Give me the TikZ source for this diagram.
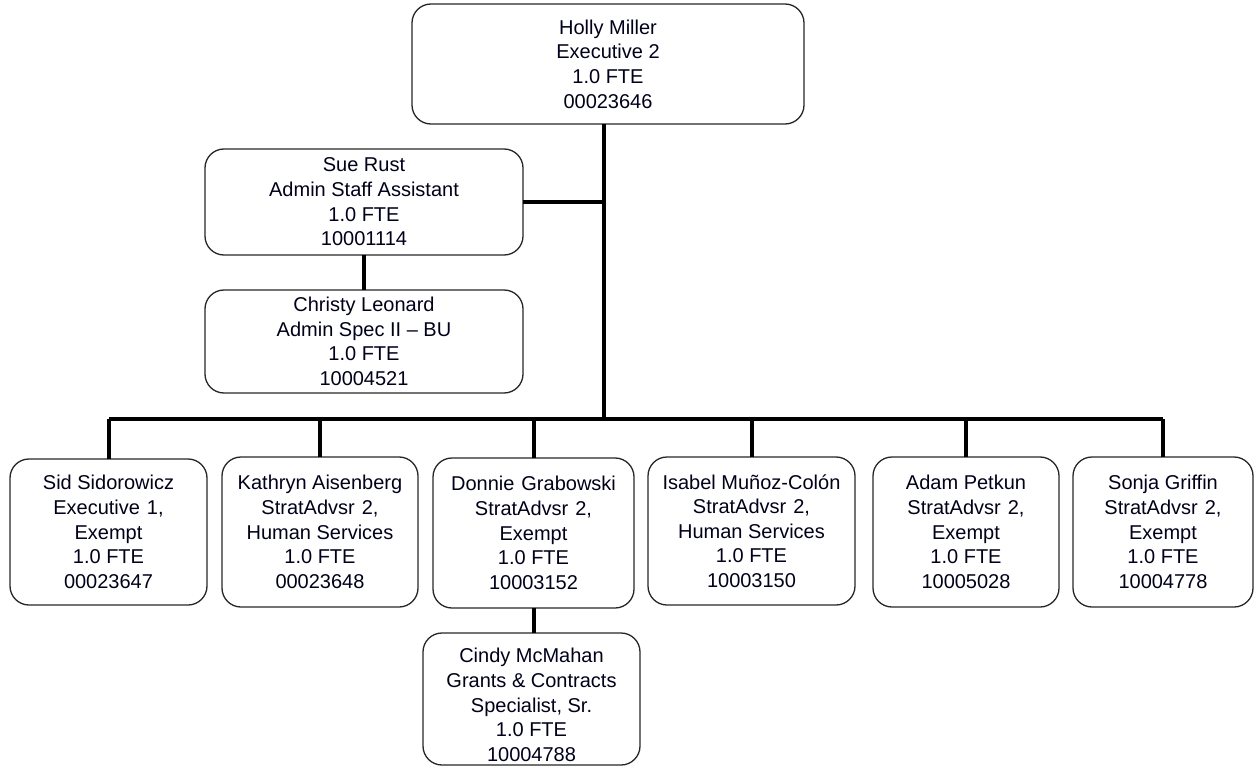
\documentclass[tikz,border=0pt]{standalone}
\usepackage{fontspec}
\setmainfont{Liberation Sans}
\begin{document}
\begin{tikzpicture}[x=1bp,y=-1bp,
  card/.style={draw=black!85, line width=1.3bp, rounded corners=19bp, inner sep=0pt, outer sep=0pt,
    align=center, font=\fontsize{20bp}{24.6bp}\selectfont, text=black!90!blue},
  link/.style={line width=4bp, black}]
\useasboundingbox (0,0) rectangle (1255,766);
\def\sp{\hspace{0.35em}}
\node[card, minimum width=392bp, minimum height=120bp] (holly) at (608,64)
  {Holly Miller\\Executive 2\\1.0 FTE\\00023646};
\node[card, minimum width=318bp, minimum height=106bp] (sue) at (364,202)
  {Sue Rust\\Admin Staff Assistant\\1.0 FTE\\10001114};
\node[card, minimum width=318bp, minimum height=103bp] (christy) at (364,341.5)
  {Christy Leonard\\Admin Spec II -- BU\\1.0 FTE\\10004521};
\node[card, minimum width=197bp, minimum height=146bp] (sid) at (108.5,532)
  {Sid Sidorowicz\\Executive\sp1,\\Exempt\\1.0 FTE\\00023647};
\node[card, minimum width=196bp, minimum height=150bp] (kathryn) at (320,532)
  {Kathryn Aisenberg\\StratAdvsr\sp2,\\Human Services\\1.0 FTE\\00023648};
\node[card, minimum width=201bp, minimum height=150bp] (donnie) at (533.5,533)
  {Donnie\sp Grabowski\\StratAdvsr\sp2,\\Exempt\\1.0 FTE\\10003152};
\node[card, minimum width=207bp, minimum height=148bp] (isabel) at (751.5,531)
  {Isabel Muñoz-Colón\\StratAdvsr\sp2,\\Human Services\\1.0 FTE\\10003150};
\node[card, minimum width=186bp, minimum height=150bp] (adam) at (966,532)
  {Adam Petkun\\StratAdvsr\sp2,\\Exempt\\1.0 FTE\\10005028};
\node[card, minimum width=180bp, minimum height=150bp] (sonja) at (1163,532)
  {Sonja Griffin\\StratAdvsr\sp2,\\Exempt\\1.0 FTE\\10004778};
\node[card, minimum width=217bp, minimum height=132bp] (cindy) at (531.5,699) {};
\node[card, draw=none] (cindytext) at (531.5,705)
  {Cindy McMahan\\Grants \& Contracts\\Specialist, Sr.\\1.0 FTE\\10004788};
\coordinate (tb) at (604,419);
\draw[link] (holly.south -| tb) -- (tb);
\draw[link] (sue.east) -- (sue.east -| tb);
\draw[link] (sue.south) -- (christy.north);
\draw[link] (sid.north |- tb) -- (sonja.north |- tb);
\foreach \n in {sid,kathryn,donnie,isabel,adam,sonja}
  \draw[link] (\n.north) -- (\n.north |- tb);
\draw[link] (donnie.south) -- (donnie.south |- cindy.north);
\end{tikzpicture}
\end{document}
